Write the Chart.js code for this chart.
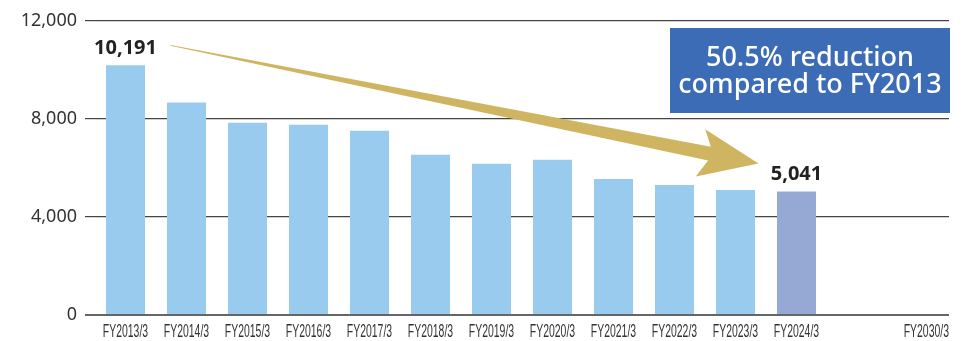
<!DOCTYPE html>
<html>
<head>
<meta charset="utf-8">
<script src="https://cdn.jsdelivr.net/npm/chart.js@4.4.1/dist/chart.umd.min.js"></script>
<style>
  html, body { margin: 0; padding: 0; background: #fff; }
  #wrap { width: 962px; height: 341px; }
</style>
</head>
<body>
<div id="wrap"><canvas id="co2Chart"></canvas></div>
<script>
const years = ["FY2013/3", "FY2014/3", "FY2015/3", "FY2016/3", "FY2017/3", "FY2018/3",
    "FY2019/3", "FY2020/3", "FY2021/3", "FY2022/3", "FY2023/3", "FY2024/3", "", "FY2030/3"];
const emissions = [10191, 8670, 7850, 7770, 7525, 6540, 6170, 6335, 5555, 5310, 5105, 5041, null, null];
const yTicks = [0, 4000, 8000, 12000];
const reductionText = ["50.5% reduction", "compared to FY2013"];

const barColors = emissions.map((v, i) => i === 11 ? "#96A9D5" : "#99CBEE");

// x labels are drawn by hand so they can be squeezed like the condensed face in the original
const xLabels = {
    id: "xLabels",
    afterDraw(chart) {
        const { ctx, chartArea, scales: { x } } = chart;
        ctx.save();
        ctx.fillStyle = "#333";
        ctx.font = "18px 'Liberation Sans', sans-serif";
        ctx.textBaseline = "alphabetic";
        years.forEach((lab, i) => {
            if (!lab) return;
            const lastOne = i === years.length - 1;
            ctx.save();
            // the target year sits flush with the right end of the axis
            ctx.translate(lastOne ? chartArea.right : x.getPixelForValue(i), 337);
            ctx.textAlign = lastOne ? "right" : "center";
            ctx.scale(0.58, 1);
            ctx.fillText(lab, 0, 0);
            ctx.restore();
        });
        ctx.restore();
    }
};

const decorations = {
    id: "decorations",
    afterDatasetsDraw(chart) {
        const { ctx, chartArea, scales: { x, y } } = chart;
        const first = 0, last = 11;

        // tapered arrow from the first value down to the latest one
        const sx = x.getPixelForValue(first) + 45, sy = y.getPixelForValue(emissions[first]) - 20;
        const tx = x.getPixelForValue(last) - 38, ty = y.getPixelForValue(emissions[last]) - 28;
        const L = Math.hypot(tx - sx, ty - sy);
        const ux = (tx - sx) / L, uy = (ty - sy) / L;
        const nx = -uy, ny = ux;
        const pt = (s, w) => [sx + ux * s + nx * w, sy + uy * s + ny * w];
        const pts = [pt(0, -0.4), pt(L - 50, -7), pt(L - 59, -23), pt(L, 0),
            pt(L - 59, 25), pt(L - 50, 7), pt(0, 0.4)];
        ctx.save();
        ctx.fillStyle = "#CFB562";
        ctx.beginPath();
        pts.forEach((p, i) => i ? ctx.lineTo(p[0], p[1]) : ctx.moveTo(p[0], p[1]));
        ctx.closePath();
        ctx.fill();

        // value labels on first and last bars
        ctx.fillStyle = "#222";
        ctx.font = "bold 20px 'Noto Sans', sans-serif";
        ctx.textAlign = "center";
        ctx.textBaseline = "alphabetic";
        [first, last].forEach(i => {
            const bx = x.getPixelForValue(i);
            const by = y.getPixelForValue(emissions[i]);
            ctx.fillText(emissions[i].toLocaleString("en-US"), bx, by - 11);
        });

        // blue callout box
        const bw = 280, bh = 85;
        const bxl = chartArea.right + 1 - bw, byt = chartArea.top + 7;
        ctx.fillStyle = "#3B6CB5";
        ctx.fillRect(bxl, byt, bw, bh);
        ctx.fillStyle = "#fff";
        ctx.font = "500 27px 'Noto Sans', sans-serif";
        ctx.fillText(reductionText[0], bxl + bw / 2, byt + 38);
        ctx.fillText(reductionText[1], bxl + bw / 2, byt + 65);
        ctx.restore();
    }
};

new Chart(document.getElementById("co2Chart"), {
    type: "bar",
    data: {
        labels: years,
        datasets: [{
            data: emissions,
            backgroundColor: barColors,
            borderWidth: 0,
            categoryPercentage: 1,
            barPercentage: 0.64
        }]
    },
    options: {
        responsive: true,
        maintainAspectRatio: false,
        animation: false,
        layout: { padding: { top: 21, right: 13, bottom: 18, left: 0 } },
        plugins: { legend: { display: false }, tooltip: { enabled: false } },
        scales: {
            x: {
                grid: { display: false },
                border: { display: false },
                ticks: { display: false }
            },
            y: {
                min: 0,
                max: 12000,
                afterBuildTicks: s => { s.ticks = yTicks.map(v => ({ value: v })); },
                afterFit: s => { s.width = 95; },
                border: { display: false },
                grid: {
                    color: c => c.tick && c.tick.value === 0 ? "#666" : "#444",
                    lineWidth: c => c.tick && c.tick.value === 0 ? 2 : 1.2,
                    tickLength: 10,
                    drawTicks: true
                },
                ticks: {
                    padding: 8,
                    color: "#333",
                    font: { family: "'Noto Sans', sans-serif", size: 18 },
                    callback: v => v.toLocaleString("en-US")
                }
            }
        }
    },
    plugins: [xLabels, decorations]
});
</script>
</body>
</html>
